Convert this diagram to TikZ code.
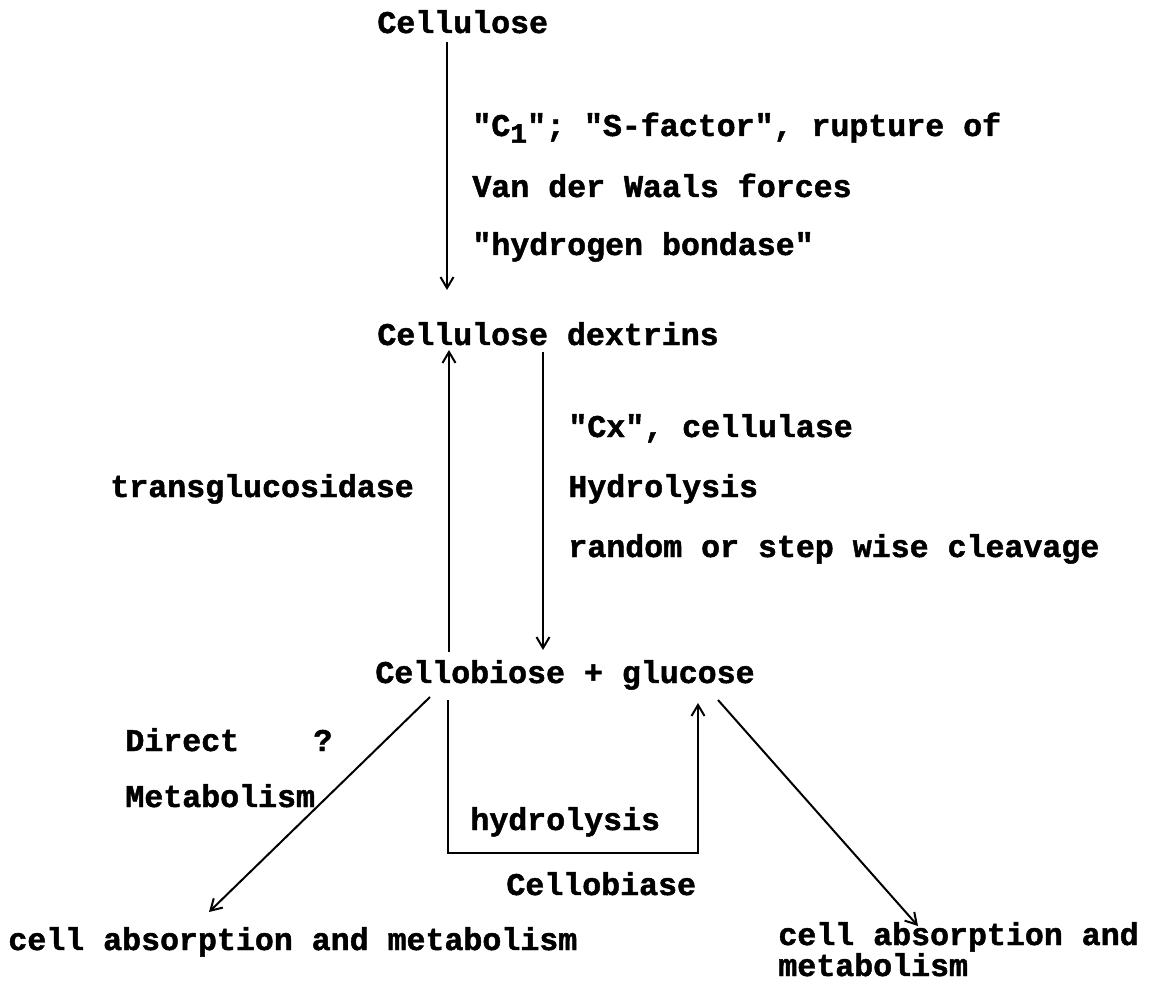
\documentclass[tikz,border=0pt]{standalone}
\usepackage{fontspec}
\newfontfamily\tw{Liberation Mono}[BoldFeatures={FakeBold=1.5}]
\usetikzlibrary{arrows.meta}
\tikzset{
  lbl/.style={anchor=base west,inner sep=0pt,font=\tw\bfseries\fontsize{15.8}{19}\selectfont},
  conn/.style={line width=1pt},
  arr/.style={conn,-{Straight Barb[length=5.5pt,width=6.5pt,line width=1pt]}}
}
\newcommand{\subone}{\raisebox{-0.4ex}{\fontsize{14}{14}\selectfont 1}}
\begin{document}
\begin{tikzpicture}[x=0.5pt,y=-0.5pt]
\useasboundingbox[fill=white] (0,0) rectangle (1150,994);
% texts
\node[lbl] (cellulose) at (377,33) {Cellulose};
\node[lbl] (l1) at (472,136) {"C\subone"; "S-factor", rupture of};
\node[lbl] (l2) at (472,197) {Van der Waals forces};
\node[lbl] (l3) at (472,255) {"hydrogen bondase"};
\node[lbl] (dextrins) at (377,345) {Cellulose dextrins};
\node[lbl] (cx) at (568,437) {"Cx", cellulase};
\node[lbl] (hyd) at (568,497) {Hydrolysis};
\node[lbl] (random) at (568,557) {random or step wise cleavage};
\node[lbl] (trans) at (110,497) {transglucosidase};
\node[lbl] (cellobiose) at (375,683) {Cellobiose + glucose};
\node[lbl] (direct) at (125,751) {Direct};
\node[lbl] (quest) at (313,751) {?};
\node[lbl] (metab) at (125,807) {Metabolism};
\node[lbl] (hydro) at (470,830) {hydrolysis};
\node[lbl] (cellobiase) at (506,895) {Cellobiase};
\node[lbl] (cellL) at (8,950) {cell absorption and metabolism};
\node[lbl] (cellRa) at (778,945) {cell absorption and};
\node[lbl] (cellRb) at (778,976) {metabolism};
% connector end points
\coordinate (a1s) at (447,42);
\coordinate (a1e) at (447,290);
\coordinate (a2s) at (449,652);
\coordinate (a2e) at (449,350);
\coordinate (a3s) at (543,352);
\coordinate (a3e) at (543,650);
\coordinate (a4s) at (430,697);
\coordinate (a4e) at (209,912);
\coordinate (a5s) at (718,700);
\coordinate (a5e) at (918,926);
\coordinate (b1) at (448,700);
\coordinate (b2) at (448,853);
\coordinate (b3) at (698,853);
\coordinate (b4) at (698,703);
% connectors
\draw[arr] (a1s) -- (a1e);
\draw[arr] (a2s) -- (a2e);
\draw[arr] (a3s) -- (a3e);
\draw[arr] (a4s) -- (a4e);
\draw[arr] (a5s) -- (a5e);
\draw[arr] (b1) -- (b2) -- (b3) -- (b4);
\end{tikzpicture}
\end{document}
